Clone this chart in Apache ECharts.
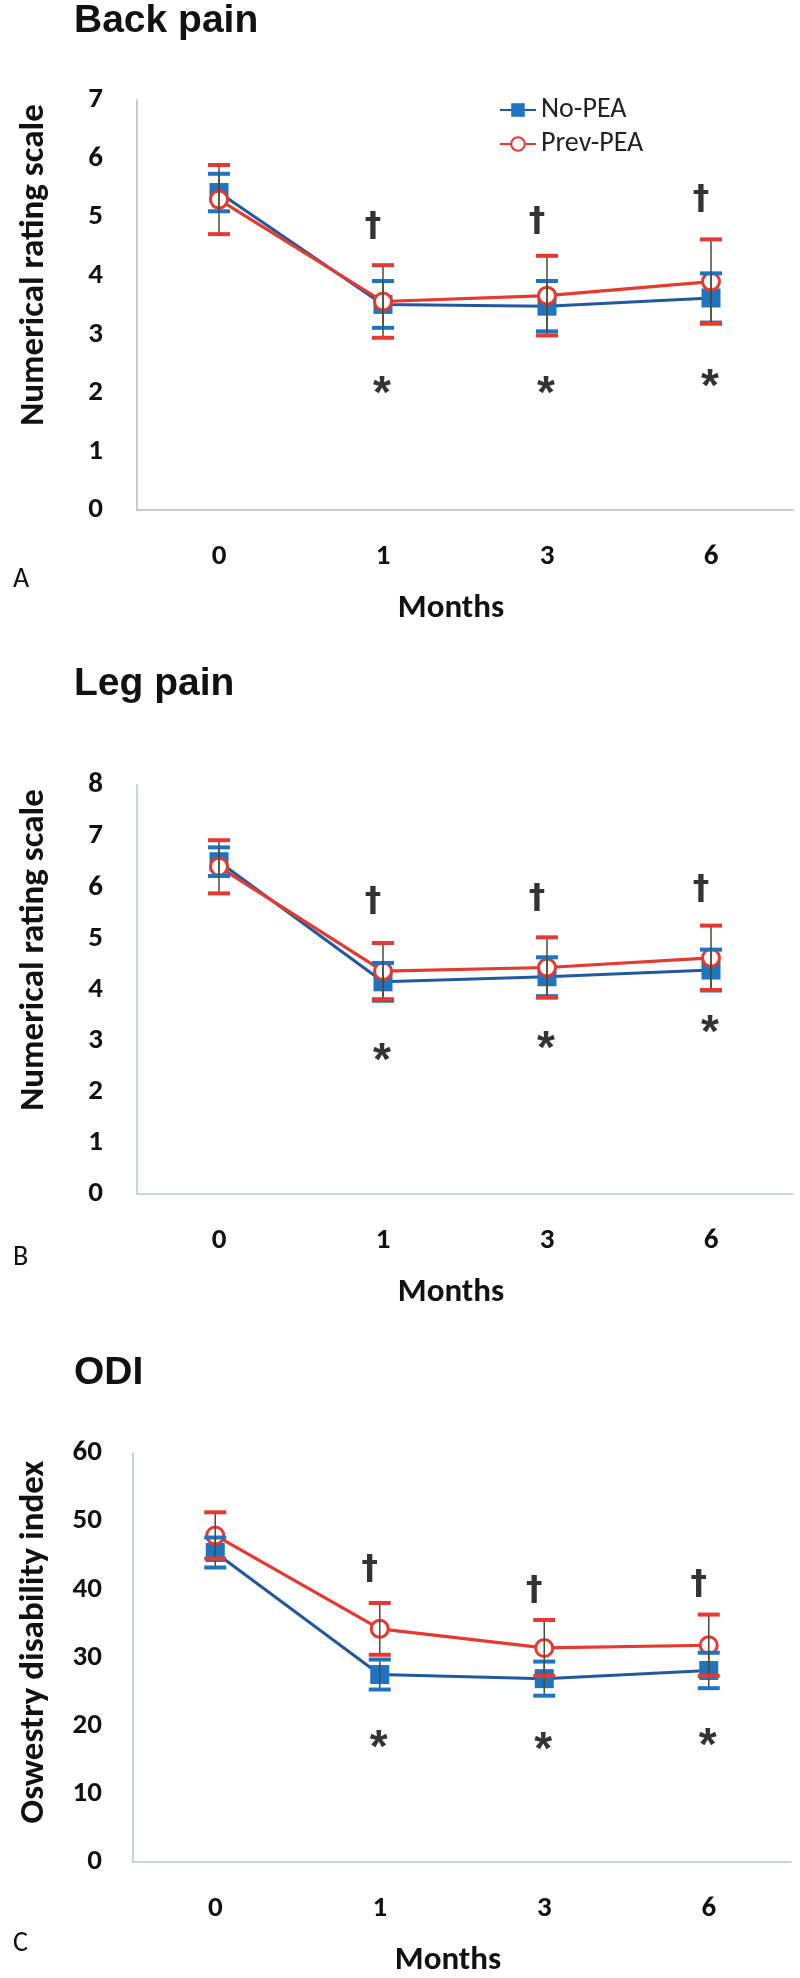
<!DOCTYPE html>
<html>
<head>
<meta charset="utf-8">
<title>Back pain, Leg pain, ODI</title>
<script src="https://cdn.jsdelivr.net/npm/echarts@6/dist/echarts.min.js"></script>
<style>
html, body { margin: 0; padding: 0; background: #fff; }
#main { width: 800px; height: 1978px; }
</style>
</head>
<body>
<div id="main"></div>
<script>
var months = ['0', '1', '3', '6'];
var seriesNames = ['No-PEA', 'Prev-PEA'];

// A - back pain (NRS)
var backNoPEA = [5.42, 3.51, 3.48, 3.62];
var backNoPEAErr = [0.32, 0.40, 0.43, 0.42];
var backPrevPEA = [5.30, 3.56, 3.66, 3.90];
var backPrevPEAErr = [0.59, 0.62, 0.68, 0.72];
var backDagger = [4.84, 4.92, 5.30];   // months 1, 3, 6
var backStar = [2.16, 2.16, 2.29];

// B - leg pain (NRS)
var legNoPEA = [6.50, 4.15, 4.25, 4.38];
var legNoPEAErr = [0.28, 0.37, 0.38, 0.40];
var legPrevPEA = [6.40, 4.36, 4.43, 4.62];
var legPrevPEAErr = [0.52, 0.55, 0.59, 0.63];
var legDagger = [5.72, 5.79, 5.95];
var legStar = [2.82, 3.05, 3.35];

// C - ODI
var odiNoPEA = [45.4, 27.5, 26.9, 28.1];
var odiNoPEAErr = [2.2, 2.2, 2.5, 2.6];
var odiPrevPEA = [47.9, 34.2, 31.4, 31.8];
var odiPrevPEAErr = [3.4, 3.8, 4.1, 4.5];
var odiDagger = [42.9, 39.8, 40.7];
var odiStar = [18.3, 18.05, 18.55];

var FONT = 'Carlito, Lato, sans-serif';
var TITLE_FONT = '"Liberation Sans", Arial, sans-serif';
var DAGGER_FONT = '"DejaVu Sans", sans-serif';
var BLUE = '#1f74c1', BLUE_LINE = '#2159a0', RED = '#e8392f', STEM = '#4d4d36';

var myChart = echarts.init(document.getElementById('main'));

var panels = [
    { grid: { left: 137, top: 100, width: 656, height: 410 }, max: 7, interval: 1, margin: 34,
      no: backNoPEA, noErr: backNoPEAErr, prev: backPrevPEA, prevErr: backPrevPEAErr,
      dagger: backDagger, star: backStar, axisColor: '#b8b8b8' },
    { grid: { left: 137, top: 785, width: 656, height: 409 }, max: 8, interval: 1, margin: 34,
      no: legNoPEA, noErr: legNoPEAErr, prev: legPrevPEA, prevErr: legPrevPEAErr,
      dagger: legDagger, star: legStar, axisColor: '#b9c6d2' },
    { grid: { left: 133, top: 1453, width: 658, height: 412 }, max: 60, interval: 10, margin: 31,
      no: odiNoPEA, noErr: odiNoPEAErr, prev: odiPrevPEA, prevErr: odiPrevPEAErr,
      dagger: odiDagger, star: odiStar, axisColor: '#b9c6d2' }
];

function errorBars(gi, mean, err, color) {
    return {
        type: 'custom', xAxisIndex: gi, yAxisIndex: gi, z: 5, silent: true,
        data: mean.map(function (m, i) { return [i, m - err[i], m + err[i]]; }),
        renderItem: function (params, api) {
            var lo = api.coord([api.value(0), api.value(1)]);
            var hi = api.coord([api.value(0), api.value(2)]);
            var w = 11;
            return {
                type: 'group',
                children: [
                    { type: 'line', shape: { x1: lo[0], y1: lo[1], x2: hi[0], y2: hi[1] },
                      style: { stroke: STEM, lineWidth: 1.5 } },
                    { type: 'line', shape: { x1: hi[0] - w, y1: hi[1], x2: hi[0] + w, y2: hi[1] },
                      style: { stroke: color, lineWidth: 4 } },
                    { type: 'line', shape: { x1: lo[0] - w, y1: lo[1], x2: lo[0] + w, y2: lo[1] },
                      style: { stroke: color, lineWidth: 4 } }
                ]
            };
        }
    };
}

function marks(gi, vals, text, font, size, offset) {
    return {
        type: 'scatter', xAxisIndex: gi, yAxisIndex: gi, z: 6, silent: true,
        symbolSize: 1, itemStyle: { color: 'rgba(0,0,0,0)' },
        data: vals.map(function (v, i) { return [i + 1, v]; }),
        label: {
            show: true, position: 'inside', formatter: text, offset: offset,
            fontFamily: font, fontWeight: 'bold', fontSize: size, color: '#000'
        }
    };
}

var grids = [], xAxes = [], yAxes = [], series = [];
panels.forEach(function (p, gi) {
    grids.push(p.grid);
    xAxes.push({
        type: 'category', gridIndex: gi, data: months, boundaryGap: true,
        axisLine: { lineStyle: { color: p.axisColor, width: 1.5 } },
        axisTick: { show: false },
        axisLabel: { margin: 32, fontFamily: FONT, fontWeight: 'bold', fontSize: 29, color: '#111' },
        name: 'Months', nameLocation: 'middle', nameGap: 82,
        nameTextStyle: { fontFamily: FONT, fontWeight: 'bold', fontSize: 33, color: '#111', padding: [0, 28, 0, 0] }
    });
    yAxes.push({
        type: 'value', gridIndex: gi, min: 0, max: p.max, interval: p.interval,
        axisLine: { show: true, lineStyle: { color: p.axisColor, width: 1.5 } },
        axisTick: { show: false },
        splitLine: { show: false },
        axisLabel: { margin: p.margin, fontFamily: FONT, fontWeight: 'bold', fontSize: 29, color: '#111' }
    });
    series.push({
        name: seriesNames[0], type: 'line', xAxisIndex: gi, yAxisIndex: gi, z: 2,
        data: p.no, symbol: 'rect', symbolSize: 19,
        lineStyle: { color: BLUE_LINE, width: 3 },
        itemStyle: { color: BLUE, borderWidth: 0 },
        emphasis: { disabled: true }
    });
    series.push({
        name: seriesNames[1], type: 'line', xAxisIndex: gi, yAxisIndex: gi, z: 3,
        data: p.prev, symbol: 'circle', symbolSize: 17,
        lineStyle: { color: RED, width: 3.2 },
        itemStyle: { color: '#fff', borderColor: RED, borderWidth: 3 },
        emphasis: { disabled: true }
    });
    series.push(errorBars(gi, p.no, p.noErr, BLUE));
    series.push(errorBars(gi, p.prev, p.prevErr, RED));
    series.push(marks(gi, p.dagger, '\u2020', DAGGER_FONT, 33, [-10, 1]));
    series.push(marks(gi, p.star, '*', TITLE_FONT, 46, [-1, 12]));
});

function label(text, x, y, size, weight, rot, font) {
    return {
        type: 'text', x: x, y: y, rotation: rot || 0, silent: true,
        style: {
            text: text, fontFamily: font || FONT, fontSize: size, fontWeight: weight, fill: '#111',
            textAlign: rot ? 'center' : 'left', textVerticalAlign: 'middle'
        }
    };
}

myChart.setOption({
    animation: false,
    backgroundColor: '#fff',
    grid: grids,
    xAxis: xAxes,
    yAxis: yAxes,
    legend: {
        left: 494, top: 91, orient: 'vertical', itemGap: 6,
        itemWidth: 36, itemHeight: 17,
        data: seriesNames,
        textStyle: { fontFamily: FONT, fontSize: 28, color: '#222' },
        selectedMode: false
    },
    graphic: [
        label('Back pain', 74, 21, 39, 'bold', 0, TITLE_FONT),
        label('Leg pain', 74, 684, 39, 'bold', 0, TITLE_FONT),
        label('ODI', 74, 1373, 39, 'bold', 0, TITLE_FONT),
        label('A', 13, 580, 28, 'normal'),
        label('B', 13, 1258, 28, 'normal'),
        label('C', 13, 1944, 28, 'normal'),
        label('Numerical rating scale', 34, 265, 35, 'bold', Math.PI / 2),
        label('Numerical rating scale', 34, 950, 35, 'bold', Math.PI / 2),
        label('Oswestry disability index', 34, 1642, 35, 'bold', Math.PI / 2)
    ],
    series: series
});
</script>
</body>
</html>
